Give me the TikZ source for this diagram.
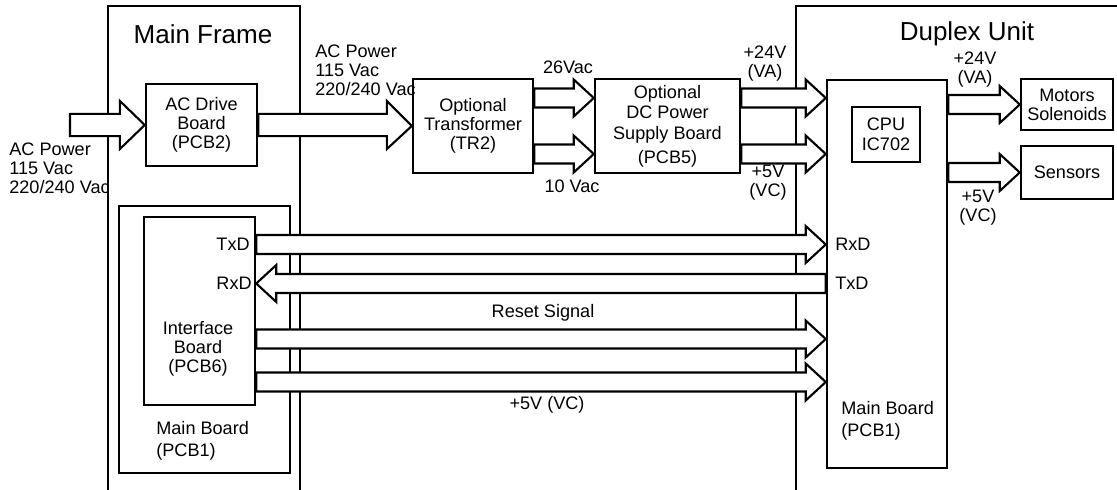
\documentclass[tikz,border=0pt]{standalone}
\usepackage{fontspec}
\setmainfont{Liberation Sans}
\usetikzlibrary{calc}

\tikzset{
    box/.style={draw, line width=1.4pt, align=center, inner sep=0pt,
        font=\fontsize{10.3}{10.8}\selectfont},
    frame/.style={draw, line width=1.4pt},
    fat/.style={draw, fill=white, line width=1.2pt, line join=miter},
    lbl/.style={align=left, inner sep=0pt, font=\fontsize{10.3}{10.8}\selectfont},
    title/.style={inner sep=0pt, font=\fontsize{14.8}{17}\selectfont}
}

% hollow block arrow: from, tip, half shaft, half head, head length
\newcommand{\fatarrowx}[5]{%
    \filldraw[fat] let \p1=#1, \p2=#2, \p3=($#2!#5!#1$) in
        (\x1,\y1-#3) -- (\x3,\y1-#3) -- (\x3,\y1-#4) -- (\x2,\y2)
        -- (\x3,\y1+#4) -- (\x3,\y1+#3) -- (\x1,\y1+#3) -- cycle;}
\newcommand{\fatarrow}[2]{\fatarrowx{#1}{#2}{5.4pt}{10.5pt}{11.4pt}}
\newcommand{\bigfatarrow}[2]{\fatarrowx{#1}{#2}{6.3pt}{13.7pt}{14.2pt}}

\begin{document}
\begin{tikzpicture}

\clip (0,0) rectangle (22.34,9.78);

% Frames
\draw[frame] (2.16,-0.035) rectangle (6.00,9.66);
\node[title] (mf) at (4.06,9.10) {Main Frame};
\draw[frame] (15.92,-0.035) rectangle (22.8,9.66);
\node[title] (du) at (19.34,9.10) {Duplex Unit};

% Boards
\node[box, minimum width=2.22cm, minimum height=1.64cm] (acd) at (4.03,7.28)
    {AC Drive\\Board\\(PCB2)};
\node[box, minimum width=2.40cm, minimum height=1.88cm] (tr2) at (9.46,7.26)
    {Optional\\Transformer\\(TR2)};
\node[box, minimum width=2.90cm, minimum height=1.88cm, font=\fontsize{10.3}{11.6}\selectfont]
    (pcb5) at (13.35,7.26) {Optional\\DC Power\\Supply Board\\[2pt](PCB5)};
\node[box, minimum width=3.42cm, minimum height=5.34cm] (mb1) at (4.09,2.99) {};
\node[box, minimum width=2.22cm, minimum height=3.76cm] (pcb6) at (3.99,3.56) {};
\node[box, minimum width=2.40cm, minimum height=7.76cm] (mb2) at (17.74,4.30) {};
\node[box, minimum width=1.36cm, minimum height=1.10cm, font=\fontsize{10.3}{11.4}\selectfont]
    (cpu) at (17.72,7.09) {CPU\\IC702};
\node[box, minimum width=1.84cm, minimum height=1.02cm] (mot) at (21.34,7.69)
    {Motors\\Solenoids};
\node[box, minimum width=1.84cm, minimum height=1.06cm] (sens) at (21.34,6.33) {Sensors};

% Text inside boards
\node[lbl, align=center] (pcb6t) at (3.96,2.80) {Interface\\Board\\(PCB6)};
\node[lbl, anchor=east] (txa) at (5.00,4.89) {TxD};
\node[lbl, anchor=east] (rxa) at (5.04,4.11) {RxD};
\node[lbl, anchor=west, font=\fontsize{10.3}{12.5}\selectfont] (mb1t) at (3.12,0.96)
    {Main Board\\(PCB1)};
\node[lbl, anchor=west] (rxb) at (16.70,4.89) {RxD};
\node[lbl, anchor=west] (txb) at (16.70,4.11) {TxD};
\node[lbl, anchor=west, font=\fontsize{10.3}{12.5}\selectfont] (mb2t) at (16.82,1.36)
    {Main Board\\(PCB1)};

% Power labels
\node[lbl, anchor=west] (acinl) at (0.18,6.42) {AC Power\\115 Vac\\220/240 Vac};
\node[lbl, anchor=west] (acoutl) at (6.30,8.38) {AC Power\\115 Vac\\220/240 Vac};
\node[lbl] (v26l) at (11.36,8.44) {26Vac};
\node[lbl] (v10l) at (11.44,6.06) {10 Vac};
\node[lbl, align=center] (val) at (15.30,8.50) {+24V\\(VA)};
\node[lbl, align=center] (vcl) at (15.36,6.12) {+5V\\(VC)};
\node[lbl, align=center] (va2l) at (19.50,8.38) {+24V\\(VA)};
\node[lbl, align=center] (vc2l) at (19.56,5.62) {+5V\\(VC)};
\node[lbl] (rstl) at (10.86,3.52) {Reset Signal};
\node[lbl] (vccl) at (10.94,1.68) {+5V (VC)};

% Arrows
\coordinate (acsrc) at (1.40,7.28);
\bigfatarrow{(acsrc)}{(acd.west)}
\bigfatarrow{(acd.east)}{(tr2.west)}

\coordinate (v26) at ([yshift=5.6mm]tr2.east);
\coordinate (v10) at ([yshift=-5.6mm]tr2.east);
\fatarrow{(v26)}{(pcb5.west |- v26)}
\fatarrow{(v10)}{(pcb5.west |- v10)}

\coordinate (va) at ([yshift=5.6mm]pcb5.east);
\coordinate (vc) at ([yshift=-5.6mm]pcb5.east);
\fatarrow{(va)}{(mb2.west |- va)}
\fatarrow{(vc)}{(mb2.west |- vc)}

\fatarrow{(mb2.east |- mot.west)}{(mot.west)}
\fatarrow{(mb2.east |- sens.west)}{(sens.west)}

\coordinate (rst) at ([yshift=-5.6mm]pcb6.east);
\coordinate (vcc) at ([yshift=-14.2mm]pcb6.east);
\fatarrow{(pcb6.east |- txa)}{(mb2.west |- txa)}
\fatarrow{(mb2.west |- rxa)}{(pcb6.east |- rxa)}
\fatarrow{(rst)}{(mb2.west |- rst)}
\fatarrow{(vcc)}{(mb2.west |- vcc)}

\end{tikzpicture}
\end{document}
